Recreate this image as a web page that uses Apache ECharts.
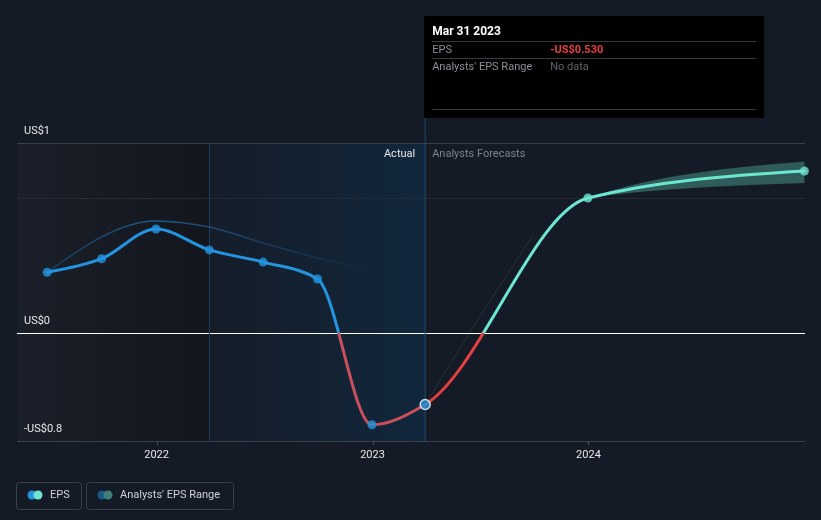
<!DOCTYPE html>
<html>
<head>
<meta charset="utf-8">
<script src="https://cdn.jsdelivr.net/npm/echarts@6/dist/echarts.min.js"></script>
<style>html,body{margin:0;padding:0;background:#151b26;}#c{width:821px;height:520px;}</style>
</head>
<body>
<div id="c"></div>
<script>
// ---- data ----
const actualDates = ['2021-06-30','2021-09-30','2021-12-31','2022-03-31','2022-06-30','2022-09-30','2022-12-31','2023-03-31'];
const actualEPS   = [0.45, 0.55, 0.77, 0.615, 0.525, 0.40, -0.68, -0.53];
const forecastDates = ['2023-03-31','2023-12-31','2024-12-31'];
const forecastEPS   = [-0.53, 1.0, 1.2];
const rangeDates = ['2023-12-31','2024-12-31'];
const rangeLow   = [1.0, 1.11];
const rangeHigh  = [1.0, 1.27];
const pastEstDates = ['2021-06-30','2021-12-31','2022-03-31','2022-06-30','2022-09-30','2022-12-31'];
const pastEstEPS   = [0.45, 0.83, 0.785, 0.667, 0.556, 0.47];
const pastFcDates = ['2023-03-31','2023-06-30','2023-09-30'];
const pastFcEPS   = [-0.53, 0.11, 0.73];
const tickDates = ['2022-01-01','2023-01-01','2024-01-01'];
const tickLabels = ['2022','2023','2024'];
const yLabelTexts  = ['-US$0.8', 'US$0', 'US$1'];
const xMin = '2021-05-10', xMax = '2025-01-01';
const yMin = -0.8, yMax = 1.407;
const splitDate = '2023-03-31';
const pastStart = '2022-03-31';

const ts = s => Date.parse(s + 'T00:00:00Z');
const zip = (a, b) => a.map((d, i) => [ts(d), b[i]]);
const tickTs = tickDates.map(ts);

// full EPS sequence (actual then forecast), shared tangents
const allPts = zip(actualDates, actualEPS).concat(zip(forecastDates.slice(1), forecastEPS.slice(1)));
const nActual = actualDates.length;
const bandStart = [ts(forecastDates[0]), forecastEPS[0]];
const upperSeq = [bandStart].concat(zip(rangeDates, rangeHigh));
const lowerSeq = [bandStart].concat(zip(rangeDates, rangeLow));

// monotone-x cubic (pixel space)
function tangents(P) {
  const n = P.length, t = new Array(n).fill(0);
  const sgn = v => (v > 0) - (v < 0);
  for (let i = 1; i < n - 1; i++) {
    const h0 = P[i][0] - P[i-1][0], h1 = P[i+1][0] - P[i][0];
    const s0 = (P[i][1] - P[i-1][1]) / h0, s1 = (P[i+1][1] - P[i][1]) / h1;
    const p = (s0 * h1 + s1 * h0) / (h0 + h1);
    t[i] = (sgn(s0) + sgn(s1)) * Math.min(Math.abs(s0), Math.abs(s1), 0.5 * Math.abs(p)) || 0;
  }
  if (n === 2) { t[0] = t[1] = (P[1][1] - P[0][1]) / (P[1][0] - P[0][0]); }
  else if (n > 2) {
    t[0] = (3 * (P[1][1] - P[0][1]) / (P[1][0] - P[0][0]) - t[1]) / 2;
    t[n-1] = (3 * (P[n-1][1] - P[n-2][1]) / (P[n-1][0] - P[n-2][0]) - t[n-2]) / 2;
  }
  return t;
}
function segs(P, t, from, to, move) {
  let d = move ? `M${P[from][0]},${P[from][1]}` : `L${P[from][0]},${P[from][1]}`;
  const step = from <= to ? 1 : -1;
  for (let i = from; i !== to; i += step) {
    const j = i + step;
    const dx = (P[j][0] - P[i][0]) / 3;
    d += `C${P[i][0] + dx},${P[i][1] + dx * t[i]},${P[j][0] - dx},${P[j][1] - dx * t[j]},${P[j][0]},${P[j][1]}`;
  }
  return d;
}

const chart = echarts.init(document.getElementById('c'), null, {renderer: 'canvas'});
const font = 'Roboto';
const lbl = (txt) => ({
  show: true, position: 'insideStartTop', formatter: () => txt, color: '#e8e8e8', fontSize: 11, fontFamily: font,
  distance: [7, 6]
});

let y0px = 0;
const splitGrad = (above, below) => ({
  type: 'linear', global: true, x: 0, y: y0px - 1, x2: 0, y2: y0px + 1,
  colorStops: [{offset: 0, color: above}, {offset: 0.5, color: above}, {offset: 0.5, color: below}, {offset: 1, color: below}]
});

function curveSeries(id, seq, from, to, style, z) {
  return {
    id, type: 'custom', data: seq, z, silent: true, clip: false,
    encode: {x: 0, y: 1},
    renderItem: (params, api) => {
      if (params.dataIndex !== 0) return null;
      const P = seq.map(p => api.coord(p));
      const t = tangents(P);
      return {type: 'path', shape: {pathData: segs(P, t, from, to, true)},
        style: Object.assign({fill: null, lineCap: 'round', lineJoin: 'round'}, typeof style === 'function' ? style() : style)};
    }
  };
}

const option = {
  backgroundColor: '#151b26',
  animation: false,
  textStyle: {fontFamily: font},
  grid: {left: 17, right: 16, top: 143, bottom: 79, containLabel: false},
  xAxis: {
    type: 'value', min: ts(xMin), max: ts(xMax), scale: true,
    axisLine: {show: true, lineStyle: {color: '#3a404a', width: 1}},
    axisTick: {show: false},
    axisLabel: {
      customValues: tickTs, color: '#e8e8e8', fontSize: 11, margin: 9, fontFamily: font,
      formatter: (v) => { const i = tickTs.findIndex(t => Math.abs(t - v) < 86400000); return i >= 0 ? tickLabels[i] : ''; }
    },
    splitLine: {show: false}
  },
  yAxis: {
    type: 'value', min: yMin, max: yMax,
    axisLine: {show: false}, axisTick: {show: false}, splitLine: {show: false}, axisLabel: {show: false}
  },
  series: [
    { // background areas + grid lines
      type: 'line', data: [], z: 1, silent: true, clip: false,
      markArea: {
        silent: true, z: 1,
        data: [
          [{xAxis: ts(xMin), itemStyle: {color: {type: 'linear', x: 0, y: 0, x2: 1, y2: 0,
              colorStops: [{offset: 0, color: '#1a1f29'}, {offset: 1, color: '#13161d'}]}}}, {xAxis: ts(pastStart)}],
          [{xAxis: ts(pastStart), itemStyle: {color: {type: 'linear', x: 0, y: 0, x2: 1, y2: 0,
              colorStops: [{offset: 0, color: '#151d29'}, {offset: 1, color: '#11273c'}]}}}, {xAxis: ts(splitDate)}]
        ]
      },
      markLine: {
        silent: true, z: 1, symbol: 'none', label: {show: false},
        data: [
          {yAxis: 1, lineStyle: {color: '#252b35', width: 1, type: 'solid'}},
          {yAxis: 0, lineStyle: {color: '#ffffff', width: 1, type: 'solid'}, label: lbl(yLabelTexts[1])},
          {yAxis: yMin, lineStyle: {color: '#3a404a', width: 1, type: 'solid'}, label: lbl(yLabelTexts[0])},
          {xAxis: ts(pastStart), lineStyle: {color: '#1a3a58', width: 1, type: 'solid'}}
        ]
      }
    },
    { // range band
      id: 'band', name: "Analysts' EPS Range", type: 'custom', data: upperSeq, z: 2, silent: true, clip: false,
      encode: {x: 0, y: 1},
      renderItem: (params, api) => {
        if (params.dataIndex !== 0) return null;
        const U = upperSeq.map(p => api.coord(p)), L = lowerSeq.map(p => api.coord(p));
        const tu = tangents(U), tl = tangents(L);
        const d = segs(U, tu, 1, U.length - 1, true) + segs(L, tl, L.length - 1, 1, false) + 'Z';
        return {type: 'path', shape: {pathData: d}, style: {fill: '#2f5c58', stroke: null}};
      }
    },
    curveSeries('pastEst', zip(pastEstDates, pastEstEPS), 0, pastEstDates.length - 1,
      {stroke: {type: 'linear', x: 0, y: 0, x2: 1, y2: 0,
        colorStops: [{offset: 0, color: 'rgba(35,120,190,0.35)'}, {offset: 0.35, color: 'rgba(35,120,190,0.65)'}, {offset: 1, color: 'rgba(35,120,190,0.0)'}]},
       lineWidth: 1.5}, 2),
    curveSeries('pastFc', zip(pastFcDates, pastFcEPS), 0, pastFcDates.length - 1,
      {stroke: 'rgba(120,160,170,0.16)', lineWidth: 1}, 2),
    curveSeries('actual', allPts, 0, nActual - 1, () => ({stroke: splitGrad('#2394df', '#c94f5d'), lineWidth: 3}), 3),
    curveSeries('forecast', allPts, nActual - 1, allPts.length - 1, () => ({stroke: splitGrad('#6de6d1', '#e5403f'), lineWidth: 3}), 3),
    { // actual points
      name: 'EPS', type: 'scatter', data: zip(actualDates.slice(0, -1), actualEPS.slice(0, -1)), symbolSize: 9, z: 4,
      itemStyle: {color: '#2394df'}
    },
    { // highlighted point
      type: 'scatter', data: zip(actualDates.slice(-1), actualEPS.slice(-1)), symbolSize: 10, z: 5,
      itemStyle: {color: '#2394df', borderColor: '#ffffff', borderWidth: 1.5}
    },
    { // forecast points
      type: 'scatter', data: zip(forecastDates.slice(1), forecastEPS.slice(1)), symbolSize: 9, z: 4, clip: false,
      itemStyle: {color: '#6de6d1'}
    }
  ]
};
chart.setOption(option);

y0px = chart.convertToPixel({yAxisIndex: 0}, 0);
const xs = chart.convertToPixel({xAxisIndex: 0}, ts(splitDate));
const yTop = chart.convertToPixel({yAxisIndex: 0}, yMax);
const yBot = chart.convertToPixel({yAxisIndex: 0}, yMin);
const xLeft = chart.convertToPixel({xAxisIndex: 0}, ts(xMin));
const xRight = chart.convertToPixel({xAxisIndex: 0}, ts(xMax));
const tipX = xs - 1, tipY = 16, tipW = 340, tipH = 102;
const gray = '#8a8f98';
const tickGraphics = tickTs.map(t => {
  const px = Math.round(chart.convertToPixel({xAxisIndex: 0}, t)) + 0.5;
  return {type: 'line', z: 5, silent: true, shape: {x1: px, y1: yBot, x2: px, y2: yBot + 4}, style: {stroke: '#4a505a', lineWidth: 1}};
});
const yTopLine = Math.round(yTop) + 0.5;

chart.setOption({
  series: [
    curveSeries('actual', allPts, 0, nActual - 1, () => ({stroke: splitGrad('#2394df', '#c94f5d'), lineWidth: 3}), 3),
    curveSeries('forecast', allPts, nActual - 1, allPts.length - 1, () => ({stroke: splitGrad('#6de6d1', '#e5403f'), lineWidth: 3}), 3)
  ],
  graphic: tickGraphics.concat([
    {type: 'line', z: 1, silent: true, shape: {x1: xLeft, y1: yTopLine, x2: xRight, y2: yTopLine}, style: {stroke: '#3a404a', lineWidth: 1}},
    {type: 'text', z: 6, x: xLeft + 7, y: yTop - 6, style: {text: yLabelTexts[2], fill: '#e8e8e8', font: '11px Roboto', align: 'left', verticalAlign: 'bottom'}},
    {type: 'line', z: 1, silent: true, shape: {x1: xs, y1: tipY + tipH, x2: xs, y2: yBot}, style: {stroke: '#1d4a6f', lineWidth: 1}},
    {type: 'text', z: 6, x: xs - 10, y: yTop + 11, style: {text: 'Actual', fill: '#e8e8e8', font: '11px Roboto', align: 'right', verticalAlign: 'middle'}},
    {type: 'text', z: 6, x: xs + 7, y: yTop + 11, style: {text: 'Analysts Forecasts', fill: '#7d838c', font: '11px Roboto', align: 'left', verticalAlign: 'middle'}},
    // tooltip box
    {type: 'rect', z: 10, shape: {x: tipX, y: tipY, width: tipW, height: tipH}, style: {fill: '#000000'}},
    {type: 'text', z: 11, x: tipX + 8, y: tipY + 16, style: {text: 'Mar 31 2023', fill: '#ffffff', font: 'bold 12px Roboto', verticalAlign: 'middle'}},
    {type: 'line', z: 11, shape: {x1: tipX + 8, y1: tipY + 25.5, x2: tipX + tipW - 8, y2: tipY + 25.5}, style: {stroke: '#3a3a3a', lineWidth: 1}},
    {type: 'text', z: 11, x: tipX + 8, y: tipY + 34, style: {text: 'EPS', fill: gray, font: '11px Roboto', verticalAlign: 'middle'}},
    {type: 'text', z: 11, x: tipX + 126, y: tipY + 34, style: {text: '-US$0.530', fill: '#e5403f', font: 'bold 11px Roboto', verticalAlign: 'middle'}},
    {type: 'line', z: 11, shape: {x1: tipX + 8, y1: tipY + 42.5, x2: tipX + tipW - 8, y2: tipY + 42.5}, style: {stroke: '#3a3a3a', lineWidth: 1}},
    {type: 'text', z: 11, x: tipX + 8, y: tipY + 51, style: {text: "Analysts' EPS Range", fill: gray, font: '11px Roboto', verticalAlign: 'middle'}},
    {type: 'text', z: 11, x: tipX + 126, y: tipY + 51, style: {text: 'No data', fill: '#5f646b', font: '11px Roboto', verticalAlign: 'middle'}},
    {type: 'line', z: 11, shape: {x1: tipX + 8, y1: tipY + 93.5, x2: tipX + tipW - 8, y2: tipY + 93.5}, style: {stroke: '#3a3a3a', lineWidth: 1}},
    // legend
    {type: 'rect', z: 5, shape: {x: 16.5, y: 482.5, width: 65, height: 27, r: 3}, style: {fill: 'none', stroke: '#3a404a', lineWidth: 1}},
    {type: 'circle', z: 6, shape: {cx: 32, cy: 495, r: 4.5}, style: {fill: '#2394df'}},
    {type: 'circle', z: 7, shape: {cx: 38, cy: 495, r: 4.5}, style: {fill: '#6de6d1'}},
    {type: 'text', z: 6, x: 50, y: 495, style: {text: 'EPS', fill: '#cfd2d6', font: '11px Roboto', verticalAlign: 'middle'}},
    {type: 'rect', z: 5, shape: {x: 86.5, y: 482.5, width: 147, height: 27, r: 3}, style: {fill: 'none', stroke: '#3a404a', lineWidth: 1}},
    {type: 'circle', z: 6, shape: {cx: 102, cy: 495, r: 4.5}, style: {fill: '#1e5a86'}},
    {type: 'circle', z: 7, shape: {cx: 108, cy: 495, r: 4.5}, style: {fill: '#3f7f78'}},
    {type: 'text', z: 6, x: 120, y: 495, style: {text: "Analysts' EPS Range", fill: '#cfd2d6', font: '11px Roboto', verticalAlign: 'middle'}}
  ])
});
</script>
</body>
</html>
